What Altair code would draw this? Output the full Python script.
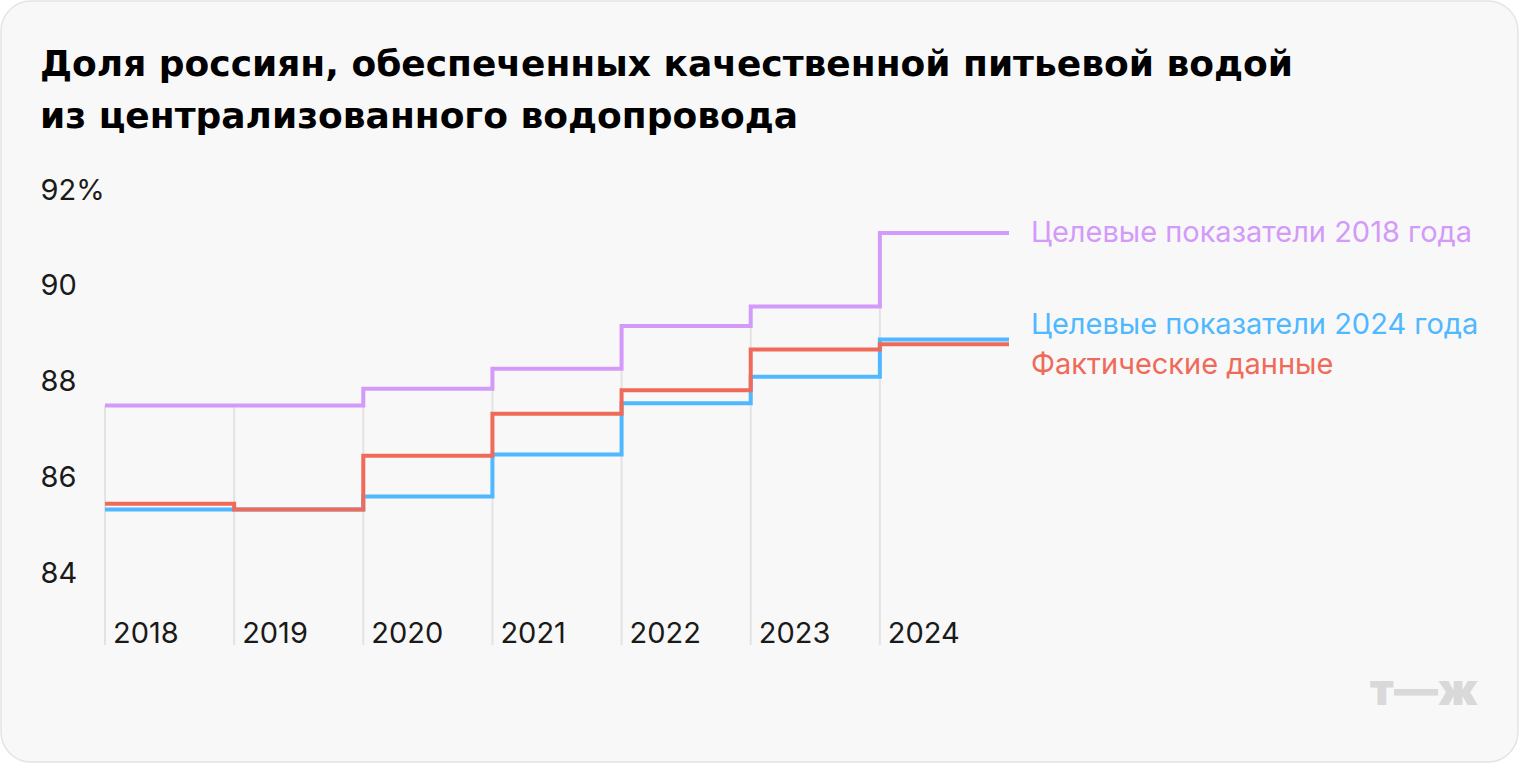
import altair as alt
import pandas as pd

# ---- data ----
years = [2018, 2019, 2020, 2021, 2022, 2023, 2024]
target_2018 = [87.5, 87.5, 87.85, 88.27, 89.16, 89.57, 91.1]
target_2024 = [85.33, 85.33, 85.6, 86.48, 87.55, 88.1, 88.88]
actual = [85.45, 85.33, 86.45, 87.33, 87.82, 88.67, 88.78]
series_names = ["Целевые показатели 2018 года", "Целевые показатели 2024 года", "Фактические данные"]
series_colors = ["#D39AF9", "#4FB8FF", "#F06A5A"]
y_ticks = [84, 86, 88, 90, 92]
year_labels = ["2018", "2019", "2020", "2021", "2022", "2023", "2024"]
title_lines = ["Доля россиян, обеспеченных качественной питьевой водой",
               "из централизованного водопровода"]
logo_text = "т—ж"

Y_MIN, Y_MAX = 82.5, 92
X_END = years[-1] + 1
FONT = "Inter"
TITLE_FONT = "DejaVu Sans"
FS = 29

W, H = 904, 455
PAD_L, PAD_T = 105, 190

# step-line table: each year's value plus the closing edge of the last year
rows = []
for name, vals in zip(series_names, [target_2018, target_2024, actual]):
    for yr, v in zip(years, vals):
        rows.append({"series": name, "year": yr, "value": v})
    rows.append({"series": name, "year": X_END, "value": vals[-1]})
lines_df = pd.DataFrame(rows)

grid_df = pd.DataFrame({
    "year": years,
    "top": [target_2018[0]] + [min(a, b) for a, b in zip(target_2018[:-1], target_2018[1:])],
    "bottom": [Y_MIN] * len(years),
})
xlab_df = pd.DataFrame({"year": years, "label": year_labels, "value": [Y_MIN] * len(years)})

x_scale = alt.Scale(domain=[years[0], X_END], nice=False, zero=False)
y_scale = alt.Scale(domain=[Y_MIN, Y_MAX], nice=False, zero=False)
color_scale = alt.Scale(domain=series_names, range=series_colors)

card = alt.Chart(pd.DataFrame({"a": [0]})).mark_rect(
    fill="#F8F8F8", stroke="#E4E4E4", strokeWidth=1.5, cornerRadius=30
).encode(
    x=alt.value(-PAD_L + 1), x2=alt.value(1520 - PAD_L - 2),
    y=alt.value(-PAD_T + 1), y2=alt.value(764 - PAD_T - 2),
)

title = alt.Chart(pd.DataFrame({"t": ["\n".join(title_lines)]})).mark_text(
    align="left", baseline="alphabetic", lineBreak="\n", lineHeight=52,
    fontSize=36, fontWeight="bold", font=TITLE_FONT, color="#000000"
).encode(x=alt.value(40 - PAD_L), y=alt.value(76 - PAD_T), text="t:N")

grid = alt.Chart(grid_df).mark_rule(color="#E3E3E3", strokeWidth=2).encode(
    x=alt.X("year:Q", scale=x_scale, axis=None),
    y=alt.Y("top:Q", scale=y_scale),
    y2="bottom:Q",
)

steps = alt.Chart(lines_df).mark_line(interpolate="step-after", strokeWidth=4).encode(
    x=alt.X("year:Q", scale=x_scale, axis=None),
    y=alt.Y("value:Q", scale=y_scale, axis=alt.Axis(
        values=y_ticks, domain=False, ticks=False, grid=False,
        labelAlign="left", labelPadding=65, labelFontSize=FS, labelFont=FONT,
        labelColor="#1A1A1A", labelBaseline="middle", zindex=1,
        labelExpr="datum.value == 92 ? datum.value + '%' : datum.value",
        title=None)),
    color=alt.Color("series:N", scale=color_scale, legend=None),
    order=alt.Order("year:Q"),
)

xlabels = alt.Chart(xlab_df).mark_text(
    align="left", baseline="alphabetic", dx=8, dy=-2, fontSize=FS, font=FONT, color="#1A1A1A"
).encode(
    x=alt.X("year:Q", scale=x_scale, axis=None),
    y=alt.Y("value:Q", scale=y_scale),
    text="label:N",
)

end_dy = [0, -14, 21]
end_labels = []
for name, vals, col, dy in zip(series_names, [target_2018, target_2024, actual], series_colors, end_dy):
    d = pd.DataFrame({"year": [X_END], "value": [vals[-1]], "label": [name]})
    end_labels.append(
        alt.Chart(d).mark_text(align="left", baseline="middle", dx=22, dy=dy,
                               fontSize=FS, font=FONT, color=col).encode(
            x=alt.X("year:Q", scale=x_scale, axis=None),
            y=alt.Y("value:Q", scale=y_scale),
            text="label:N",
        )
    )

logo = alt.Chart(pd.DataFrame({"t": [logo_text]})).mark_text(
    align="right", baseline="middle", fontSize=44, fontWeight=900, font=FONT, color="#D9D9D9"
).encode(x=alt.value(1478 - PAD_L), y=alt.value(692 - PAD_T), text="t:N")

chart = alt.layer(card, title, grid, steps, xlabels, *end_labels, logo).properties(
    width=W, height=H,
    autosize=alt.AutoSizeParams(type="none"),
    padding={"left": PAD_L, "top": PAD_T, "right": 1520 - PAD_L - W, "bottom": 764 - PAD_T - H},
    background="#FFFFFF",
).configure_view(stroke=None)

chart.save("out.html", embed_options={"renderer": "svg", "actions": False})
